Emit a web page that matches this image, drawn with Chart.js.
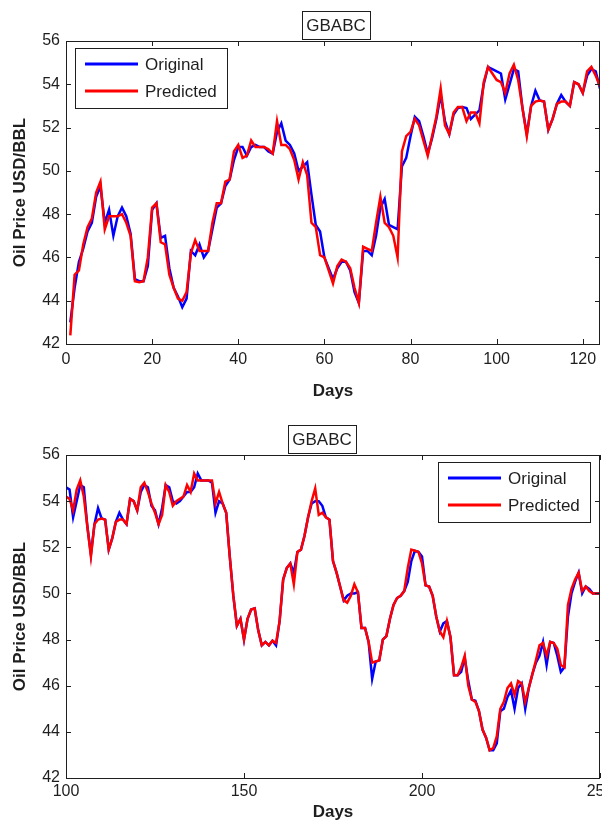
<!DOCTYPE html>
<html>
<head>
<meta charset="utf-8">
<script src="https://cdn.jsdelivr.net/npm/chart.js@4/dist/chart.umd.min.js"></script>
<style>
    html, body { margin: 0; padding: 0; background: #fff; overflow: hidden; }
    #cadre { width: 620px; }
    canvas { display: block; }
</style>
</head>
<body>
<div id="cadre">
    <canvas id="graphique-haut" width="620" height="410"></canvas>
    <canvas id="graphique-bas" width="620" height="413"></canvas>
</div>
<script>
// Jours 1..250, le graphique du haut montre 0-124, celui du bas 100-250
const jours = Array.from({ length: 250 }, (_, i) => i + 1);

const original = [
    43.0, 44.6, 45.8, 46.4, 47.2, 47.6, 48.8, 49.3, 47.6, 48.2,
    47.0, 47.9, 48.3, 47.9, 47.1, 45.0, 44.9, 44.9, 45.6, 48.2,
    48.5, 46.9, 47.0, 45.5, 44.6, 44.2, 43.7, 44.1, 46.3, 46.1,
    46.6, 46.0, 46.3, 47.3, 48.3, 48.5, 49.3, 49.6, 50.5, 51.1,
    51.1, 50.7, 51.1, 51.2, 51.1, 51.1, 50.9, 50.8, 51.8, 52.2,
    51.4, 51.2, 50.8, 50.0, 50.2, 50.4, 48.9, 47.5, 47.2, 46.0,
    45.5, 45.0, 45.5, 45.8, 45.8, 45.4, 44.4, 43.9, 46.3, 46.3,
    46.1, 47.0, 48.3, 48.7, 47.5, 47.4, 47.3, 50.2, 50.6, 51.6,
    52.5, 52.3, 51.6, 50.8, 51.5, 52.4, 53.5, 52.3, 51.7, 52.6,
    52.9, 52.95, 52.9, 52.4, 52.6, 52.8, 54.0, 54.8, 54.7, 54.6,
    54.5, 53.3, 54.0, 54.7, 54.6, 52.9, 51.7, 53.0, 53.7, 53.25,
    53.2, 51.9, 52.4, 53.1, 53.5, 53.2, 53.0, 54.1, 54.0, 53.6,
    54.4, 54.7, 54.6, 53.8, 53.6, 53.0, 53.7, 54.7, 54.6, 54.0,
    53.9, 54.0, 54.2, 54.4, 54.4, 54.6, 55.2, 54.9, 54.9, 54.9,
    54.8, 53.5, 54.0, 53.9, 53.5, 51.6, 49.9, 48.6, 48.9, 48.0,
    48.9, 49.3, 49.35, 48.4, 47.75, 47.9, 47.75, 47.95, 47.75, 48.8,
    50.6, 51.1, 51.3, 50.9, 51.8, 51.9, 52.5, 53.3, 53.9, 54.0,
    54.0, 53.8, 53.3, 53.2, 51.4, 50.9, 50.3, 49.7, 49.9, 50.0,
    50.0, 50.05, 48.5, 48.5, 47.9, 46.3, 47.05, 47.1, 48.0, 48.15,
    48.9, 49.5, 49.8, 49.9, 50.1, 50.5, 51.4, 51.85, 51.8, 51.6,
    50.35, 50.3, 49.9, 49.0, 48.35, 48.7, 48.8, 48.1, 46.45, 46.45,
    46.6, 47.2, 46.2, 45.4, 45.35, 44.9, 44.1, 43.75, 43.2, 43.2,
    43.5, 44.9, 45.0, 45.5, 45.8, 45.0, 45.9, 46.1, 45.0, 45.9,
    46.5, 47.0, 47.3, 47.9, 46.9, 47.9, 47.85, 47.3, 46.6, 46.8,
    49.0, 50.0, 50.5, 50.9, 50.0, 50.3, 50.2, 50.0, 50.0, 50.0
];

const predit = [
    42.4, 45.2, 45.4, 46.6, 47.4, 47.8, 49.0, 49.5, 47.3, 47.9,
    47.9, 47.9, 48.0, 47.6, 47.0, 44.9, 44.85, 44.9, 46.0, 48.3,
    48.5, 46.7, 46.6, 45.2, 44.6, 44.1, 44.0, 44.4, 46.2, 46.8,
    46.3, 46.3, 46.3, 47.6, 48.5, 48.5, 49.5, 49.6, 50.9, 51.2,
    50.6, 50.7, 51.4, 51.1, 51.1, 51.1, 51.0, 50.8, 52.3, 51.2,
    51.2, 51.0, 50.5, 49.6, 50.4, 49.8, 47.6, 47.4, 46.1, 46.0,
    45.4, 44.8, 45.6, 45.9, 45.8, 45.5, 44.6, 43.9, 46.5, 46.4,
    46.3, 47.6, 48.8, 47.6, 47.4, 47.0, 46.0, 50.9, 51.6, 51.8,
    52.4, 52.1, 51.4, 50.7, 51.6, 52.5, 53.8, 52.1, 51.7, 52.7,
    52.95, 52.95, 52.3, 52.7, 52.7, 52.2, 54.1, 54.8, 54.5, 54.2,
    54.1, 53.6, 54.5, 54.9, 54.2, 52.9, 51.6, 53.0, 53.2, 53.25,
    53.2, 51.9, 52.4, 53.1, 53.2, 53.2, 53.0, 54.1, 54.0, 53.6,
    54.6, 54.8, 54.4, 53.9, 53.5, 53.0, 53.4, 54.7, 54.4, 53.8,
    54.0, 54.1, 54.2, 54.7, 54.4, 55.2, 54.9, 54.9, 54.9, 54.9,
    54.9, 53.9, 54.4, 53.9, 53.5, 51.6, 49.9, 48.6, 48.9, 48.0,
    48.9, 49.3, 49.35, 48.4, 47.75, 47.9, 47.75, 47.95, 47.85, 48.8,
    50.6, 51.1, 51.3, 50.4, 51.8, 51.9, 52.5, 53.3, 54.0, 54.55,
    53.4, 53.5, 53.3, 53.2, 51.4, 50.9, 50.3, 49.7, 49.6, 49.9,
    50.4, 50.05, 48.5, 48.5, 47.9, 47.0, 47.05, 47.1, 48.0, 48.15,
    48.9, 49.5, 49.8, 49.9, 50.1, 51.1, 51.9, 51.85, 51.8, 51.3,
    50.35, 50.3, 49.9, 49.0, 48.35, 48.1, 48.8, 48.1, 46.45, 46.45,
    46.8, 47.3, 46.0, 45.4, 45.3, 44.9, 44.1, 43.75, 43.2, 43.3,
    43.8, 45.0, 45.3, 45.9, 46.1, 45.6, 46.2, 46.1, 45.3, 45.9,
    46.5, 47.1, 47.75, 47.85, 47.3, 47.9, 47.85, 47.6, 46.9, 46.8,
    49.5, 50.2, 50.6, 50.9, 50.1, 50.3, 50.1, 50.0, 50.0, 50.0
];

const ticksY      = [42, 44, 46, 48, 50, 52, 54, 56];
const ticksXHaut  = [0, 20, 40, 60, 80, 100, 120];
const ticksXBas   = [100, 150, 200, 250];
const titre       = 'GBABC';
const libelles    = ['Original', 'Predicted'];
const couleurs    = ['#0000FF', '#FF0000'];

const POLICE = "'Liberation Sans', Arial, sans-serif";
const ENCRE  = '#1e1e1e';

Chart.defaults.font.family = POLICE;
Chart.defaults.color = ENCRE;

/**
 * Cadre facon MATLAB : boite, graduations vers l interieur,
 * titre encadre et legende encadree.
 */
const cadreMatlab = {
    id: 'cadreMatlab',
    afterDraw(chart, args, opts) {
        const ctx = chart.ctx;
        const a   = chart.chartArea;
        const sx  = chart.scales.x;
        const sy  = chart.scales.y;

        ctx.save();
        ctx.strokeStyle = ENCRE;
        ctx.lineWidth = 1;
        ctx.strokeRect(a.left + 0.5, a.top + 0.5, a.right - a.left - 1, a.bottom - a.top);

        // graduations interieures
        ctx.beginPath();
        sx.ticks.forEach(t => {
            const px = Math.round(sx.getPixelForValue(t.value)) + 0.5;
            ctx.moveTo(px, a.bottom); ctx.lineTo(px, a.bottom - 5);
            ctx.moveTo(px, a.top);    ctx.lineTo(px, a.top + 5);
        });
        sy.ticks.forEach(t => {
            const py = Math.round(sy.getPixelForValue(t.value)) + 0.5;
            ctx.moveTo(a.left, py);  ctx.lineTo(a.left + 5, py);
            ctx.moveTo(a.right, py); ctx.lineTo(a.right - 5, py);
        });
        ctx.stroke();

        // titre encadre
        const cx = (a.left + a.right) / 2 + opts.decalageTitre;
        const bw = 68, bh = 28;
        ctx.fillStyle = '#fff';
        ctx.fillRect(cx - bw / 2, a.top - 2 - bh, bw, bh);
        ctx.strokeRect(Math.round(cx - bw / 2) + 0.5, Math.round(a.top - 2 - bh) + 0.5, bw, bh);
        ctx.fillStyle = ENCRE;
        ctx.font = '17px ' + POLICE;
        ctx.textAlign = 'center';
        ctx.textBaseline = 'middle';
        ctx.fillText(titre, cx, a.top - 2 - bh / 2 + 1);

        // legende encadree
        const lw = 152, lh = 60;
        const lx = opts.legendeADroite ? a.right - 10 - lw : a.left + 9;
        const ly = a.top + 7;
        ctx.fillStyle = '#fff';
        ctx.fillRect(lx, ly, lw, lh);
        ctx.strokeRect(Math.round(lx) + 0.5, Math.round(ly) + 0.5, lw, lh);
        ctx.font = '17px ' + POLICE;
        ctx.textAlign = 'left';
        libelles.forEach((lib, i) => {
            const yy = ly + 16 + i * 27;
            ctx.strokeStyle = couleurs[i];
            ctx.lineWidth = 3;
            ctx.beginPath();
            ctx.moveTo(lx + 10, yy);
            ctx.lineTo(lx + 63, yy);
            ctx.stroke();
            ctx.fillStyle = ENCRE;
            ctx.fillText(lib, lx + 70, yy + 1);
        });
        ctx.restore();
    }
};

function serie(valeurs) {
    return jours.map((j, i) => ({ x: j, y: valeurs[i] }));
}

function creerGraphique(id, reglages) {
    const canvas = document.getElementById(id);
    return new Chart(canvas.getContext('2d'), {
        type: 'line',
        data: {
            datasets: [
                {
                    label: libelles[0],
                    data: serie(original),
                    borderColor: couleurs[0],
                    borderWidth: 2.5,
                    pointRadius: 0,
                    tension: 0,
                    fill: false,
                    order: 1,   // dessine sous la prediction
                },
                {
                    label: libelles[1],
                    data: serie(predit),
                    borderColor: couleurs[1],
                    borderWidth: 2.5,
                    pointRadius: 0,
                    tension: 0,
                    fill: false,
                    order: 0,
                }
            ]
        },
        options: {
            animation: false,
            responsive: false,
            events: [],
            layout: { padding: { left: 0, right: 20, top: reglages.haut, bottom: 0 } },
            scales: {
                x: {
                    type: 'linear',
                    min: reglages.xMin,
                    max: reglages.xMax,
                    afterBuildTicks: s => { s.ticks = reglages.ticksX.map(v => ({ value: v })); },
                    afterFit: s => { s.height = reglages.hauteurX; },
                    grid: { display: false, drawTicks: false },
                    border: { display: false },
                    ticks: {
                        padding: reglages.padTicksX,
                        autoSkip: false,
                        maxRotation: 0,
                        font: { size: 16 },
                        color: ENCRE,
                    },
                    title: {
                        display: true,
                        text: 'Days',
                        font: { size: 17, weight: 'bold' },
                        color: ENCRE,
                        padding: { top: 0, bottom: reglages.padTitreX },
                    }
                },
                y: {
                    min: 42,
                    max: 56,
                    afterBuildTicks: s => { s.ticks = ticksY.map(v => ({ value: v })); },
                    afterFit: s => { s.width = 66; },
                    grid: { display: false, drawTicks: false },
                    border: { display: false },
                    ticks: { padding: 6, font: { size: 16 }, color: ENCRE },
                    title: {
                        display: true,
                        text: 'Oil Price USD/BBL',
                        font: { size: 17, weight: 'bold' },
                        color: ENCRE,
                        padding: { top: 10, bottom: 0 },
                    }
                }
            },
            plugins: {
                legend: { display: false },
                tooltip: { enabled: false },
                title: { display: false },
                cadreMatlab: reglages.cadre,
            }
        },
        plugins: [cadreMatlab]
    });
}

creerGraphique('graphique-haut', {
    xMin: 0, xMax: 124, ticksX: ticksXHaut,
    haut: 41, hauteurX: 66, padTicksX: 6, padTitreX: 8,
    cadre: { decalageTitre: 3, legendeADroite: false },
});

creerGraphique('graphique-bas', {
    xMin: 100, xMax: 250, ticksX: ticksXBas,
    haut: 45, hauteurX: 45, padTicksX: 4, padTitreX: 0,
    cadre: { decalageTitre: -11, legendeADroite: true },
});
</script>
</body>
</html>
